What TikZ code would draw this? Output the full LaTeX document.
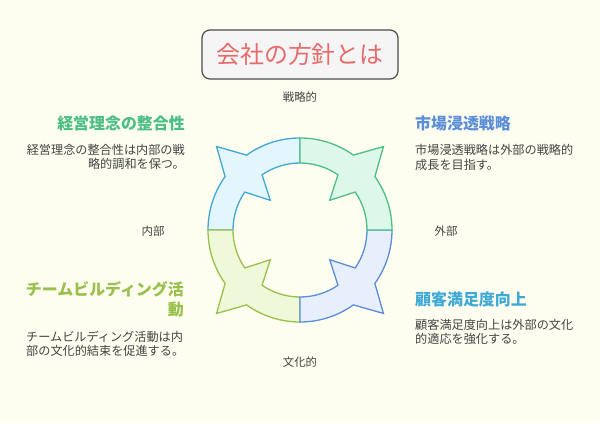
\documentclass[tikz,border=0pt]{standalone}
\usepackage{fontspec}
\setmainfont{Noto Sans CJK JP}
\usepackage{tikz}

\definecolor{bgcream}{HTML}{FDFDF0}
\definecolor{tlfill}{HTML}{E4F6FD}
\definecolor{tldraw}{HTML}{3FA9D6}
\definecolor{trfill}{HTML}{DDF7EA}
\definecolor{trdraw}{HTML}{4DBF85}
\definecolor{blfill}{HTML}{F0F8DA}
\definecolor{bldraw}{HTML}{98C04A}
\definecolor{brfill}{HTML}{E7EFFC}
\definecolor{brdraw}{HTML}{5B8ED8}
\definecolor{titlered}{HTML}{E86A6A}
\definecolor{bodygray}{HTML}{444444}

\begin{document}
\begin{tikzpicture}[x=1bp,y=1bp,
    head/.style={inner sep=0pt,font=\fontsize{16}{20}\selectfont\bfseries},
    body/.style={inner sep=0pt,text=bodygray,font=\fontsize{12.2}{14.5}\selectfont},
    axis/.style={inner sep=0pt,text=bodygray,font=\fontsize{11.5}{13}\selectfont}]
    \fill[bgcream] (0,0) rectangle (600,423);
    \useasboundingbox (0,0) rectangle (600,423);

    \node[draw=black!70,fill=black!4,line width=1.2bp,rounded corners=8bp,
          minimum width=196bp,minimum height=49bp,text=titlered,
          font=\fontsize{24}{28}\selectfont] (title) at (300,368.5) {会社の方針とは};

    % ring segments
    \begin{scope}[shift={(300,193)},line width=1.3bp]
    \foreach \m/\fc/\dc in {135/tlfill/tldraw,225/blfill/bldraw,315/brfill/brdraw,45/trfill/trdraw}
        \filldraw[fill=\fc,draw=\dc,line join=miter]
            ({\m+45}:92) arc[start angle={\m+45},end angle={\m+9.5},radius=92]
            -- (\m:118) -- ({\m-9.5}:92)
            arc[start angle={\m-9.5},end angle={\m-45},radius=92]
            -- ({\m-45}:67) arc[start angle={\m-45},end angle={\m-10.5},radius=67]
            -- (\m:42) -- ({\m+10.5}:67)
            arc[start angle={\m+10.5},end angle={\m+45},radius=67] -- cycle;
    \end{scope}

    \node[axis] (strat) at (300,326) {戦略的};
    \node[axis] (ext) at (446,192) {外部};
    \node[axis] (int) at (153,192) {内部};
    \node[axis] (cult) at (300,61) {文化的};

    \node[head,text=trdraw,anchor=east] (philh) at (185,300) {経営理念の整合性};
    \node[body,align=right,anchor=east] (philb) at (185,266)
        {経営理念の整合性は内部の戦\\略的調和を保つ。};

    \node[head,text=brdraw,anchor=west] (markh) at (415,300) {市場浸透戦略};
    \node[body,align=left,anchor=west] (markb) at (415,265.5)
        {市場浸透戦略は外部の戦略的\\成長を目指す。};

    \node[head,text=bldraw,align=right,anchor=east] (teamh) at (184,124)
        {チームビルディング活\\動};
    \node[body,align=left,anchor=west] (teamb) at (26,79)
        {チームビルディング活動は内\\部の文化的結束を促進する。};

    \node[head,text=tldraw,anchor=west] (custh) at (415,124) {顧客満足度向上};
    \node[body,align=left,anchor=west] (custb) at (415,91)
        {顧客満足度向上は外部の文化\\的適応を強化する。};
\end{tikzpicture}
\end{document}
